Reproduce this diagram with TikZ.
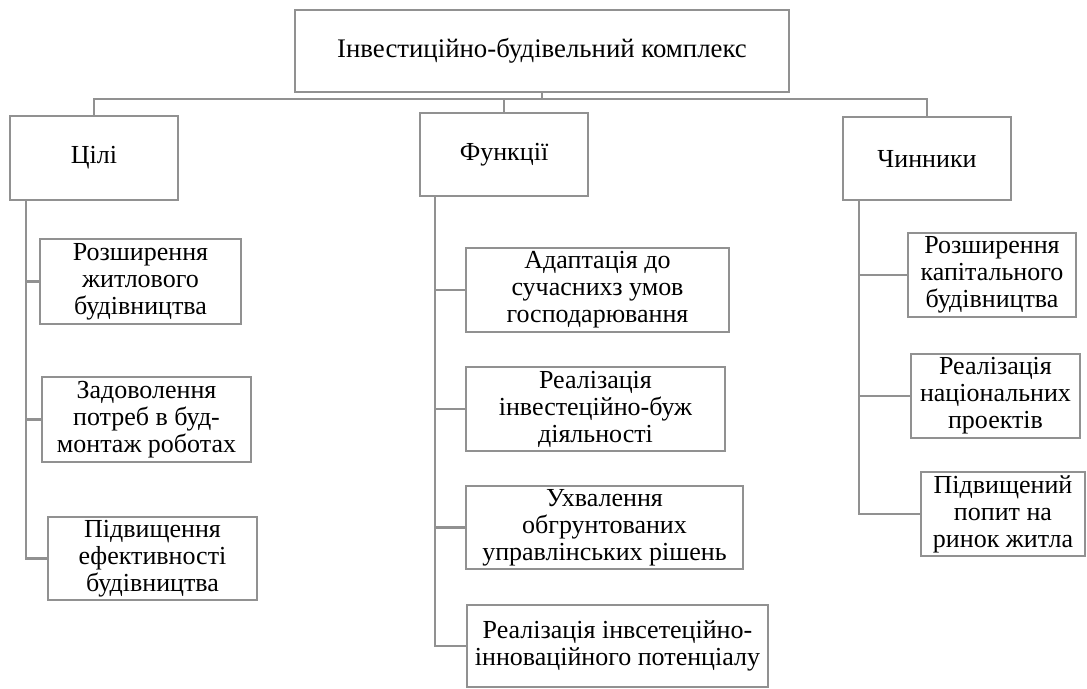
\documentclass[tikz,border=0pt]{standalone}
\usepackage{fontspec}
\setmainfont{Liberation Serif}
\usepackage{tikz}

\definecolor{linegray}{RGB}{145,145,145}

\tikzset{
  box/.style={draw=linegray, line width=1.25pt, fill=white, align=center, inner sep=0pt,
              font=\fontsize{13}{13.5}\selectfont},
  link/.style={draw=linegray, line width=1.25pt},
}

\begin{document}
\begin{tikzpicture}[x=0.5pt, y=-0.5pt]
            \useasboundingbox (0,0) rectangle (1087,689);

            %% top
            \node[box, minimum width=247pt, minimum height=41pt, font=\fontsize{13.4}{14}\selectfont] (top) at (542,51) {Інвестиційно-будівельний комплекс};

            %% level 1
            \node[box, minimum width=84pt, minimum height=42pt]   (cili) at (94,158)    {Цілі};
            \node[box, minimum width=84pt, minimum height=41.5pt] (funk) at (504,154.5) {Функції};
            \node[box, minimum width=84pt, minimum height=41.5pt] (chyn) at (927,158.5) {Чинники};

            \draw[link] (top.south) -- ++(0,6) coordinate (bus) -| (cili.north);
            \draw[link] (bus) -| (funk.north);
            \draw[link] (bus) -| (chyn.north);

            % Цілі
            \node[box, minimum width=100.5pt, minimum height=42.5pt] (l1) at (140.5,281.5) {Розширення\\житлового\\будівництва};
            \node[box, minimum width=104.5pt, minimum height=42.5pt] (l2) at (146.5,419.5) {Задоволення\\потреб в буд-\\монтаж роботах};
            \node[box, minimum width=104.5pt, minimum height=41.5pt] (l3) at (152.5,558.5) {Підвищення\\ефективності\\будівництва};

            \draw[link] ([xshift=8.5pt]cili.south west) |- (l1.west);
            \draw[link] ([xshift=8.5pt]cili.south west) |- (l2.west);
            \draw[link] ([xshift=8.5pt]cili.south west) |- (l3.west);

            % Функції
            \node[box, minimum width=131.5pt, minimum height=42pt]   (m1) at (597.5,290) {Адаптація до\\сучаснихз умов\\господарювання};
            \node[box, minimum width=129.5pt, minimum height=42pt]   (m2) at (595.5,409) {Реалізація\\інвестеційно-буж\\діяльності};
            \node[box, minimum width=138.5pt, minimum height=41.5pt] (m3) at (604.5,527.5) {Ухвалення\\обгрунтованих\\управлінських рішень};
            \node[box, minimum width=150.5pt, minimum height=41pt]   (m4) at (617.5,646) {Реалізація інвсетеційно-\\інноваційного потенціалу};

            \draw[link] ([xshift=8pt]funk.south west) |- (m1.west);
            \draw[link] ([xshift=8pt]funk.south west) |- (m2.west);
            \draw[link] ([xshift=8pt]funk.south west) |- (m3.west);
            \draw[link] ([xshift=8pt]funk.south west) |- (m4.west);

            % Чинники
            \node[box, minimum width=84pt, minimum height=42pt] (r1) at (992,275)    {Розширення\\капітального\\будівництва};
            \node[box, minimum width=84.5pt, minimum height=42pt] (r2) at (995.5,396) {Реалізація\\національних\\проектів};
            \node[box, minimum width=82pt, minimum height=42pt] (r3) at (1003,514)   {Підвищений\\попит на\\ринок житла};

            \draw[link] ([xshift=8.5pt]chyn.south west) |- (r1.west);
            \draw[link] ([xshift=8.5pt]chyn.south west) |- (r2.west);
            \draw[link] ([xshift=8.5pt]chyn.south west) |- (r3.west);

        \end{tikzpicture}
\end{document}
